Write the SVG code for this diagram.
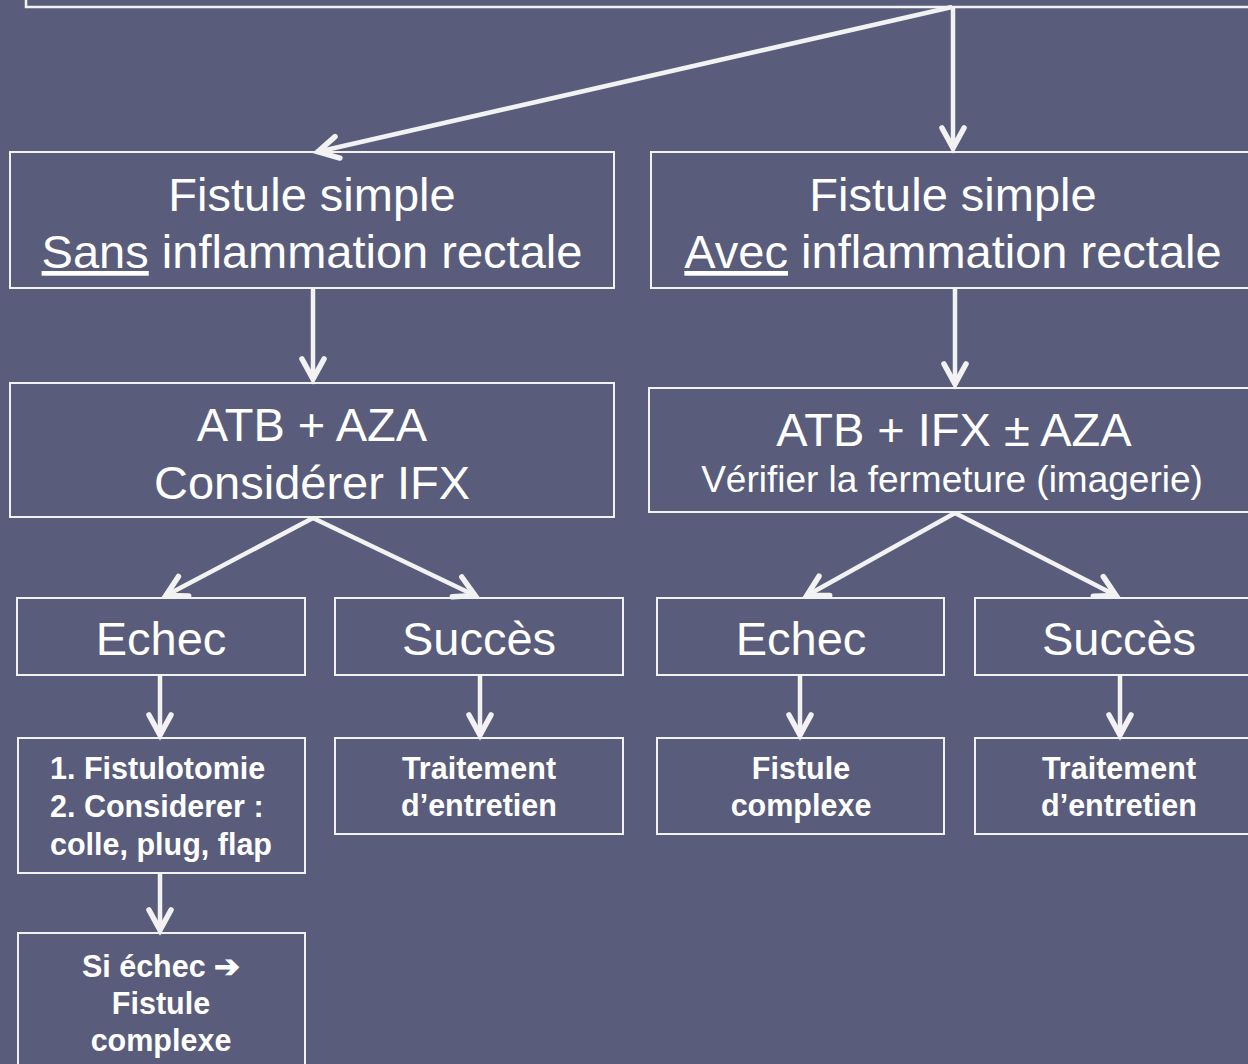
<svg xmlns="http://www.w3.org/2000/svg" width="1248" height="1064" viewBox="0 0 1248 1064">
<defs>
<style>
.bg{fill:#5a5c7b}
.box{fill:none;stroke:#f2f2f2;stroke-width:2}
.t{font-family:"Liberation Sans",Arial,sans-serif;fill:#ffffff;text-anchor:middle}
.big{font-size:47px}
.mid{font-size:37px}
.sm{font-size:30.5px;font-weight:bold}
.conn{stroke:#f2f2f2;stroke-width:4.5;fill:none;marker-end:url(#arr)}
</style>
<marker id="arr" markerUnits="userSpaceOnUse" markerWidth="60" markerHeight="60" refX="0" refY="0" orient="auto" overflow="visible">
<path d="M-21,-11 L-1,0 L-21,11" fill="none" stroke="#f2f2f2" stroke-width="5.5" stroke-linecap="round" stroke-linejoin="miter"/>
</marker>
</defs>
<rect class="bg" x="0" y="0" width="1248" height="1064"/>
<g id="top">
<rect class="box" x="26" y="-20" width="1240" height="27" style="stroke-width:2.5"/>
</g>
<g id="nA">
<rect class="box" x="10" y="152" width="604" height="136"/>
<text class="t big" x="312" y="211">Fistule simple</text>
<text class="t big" x="312" y="268"><tspan text-decoration="underline">Sans</tspan> inflammation rectale</text>
</g>
<g id="nB">
<rect class="box" x="651" y="152" width="604" height="136"/>
<text class="t big" x="953" y="211">Fistule simple</text>
<text class="t big" x="953" y="268"><tspan text-decoration="underline">Avec</tspan> inflammation rectale</text>
</g>
<g id="nC">
<rect class="box" x="10" y="383" width="604" height="134"/>
<text class="t big" x="312" y="441">ATB + AZA</text>
<text class="t big" x="312" y="499">Considérer IFX</text>
</g>
<g id="nD">
<rect class="box" x="649" y="388" width="606" height="124"/>
<text class="t big" x="954" y="446">ATB + IFX ± AZA</text>
<text class="t mid" x="952" y="492">Vérifier la fermeture (imagerie)</text>
</g>
<g id="nE1">
<rect class="box" x="17" y="598" width="288" height="77"/>
<text class="t big" x="161" y="655">Echec</text>
</g>
<g id="nS1">
<rect class="box" x="335" y="598" width="288" height="77"/>
<text class="t big" x="479" y="655">Succès</text>
</g>
<g id="nE2">
<rect class="box" x="657" y="598" width="287" height="77"/>
<text class="t big" x="801" y="655">Echec</text>
</g>
<g id="nS2">
<rect class="box" x="975" y="598" width="288" height="77"/>
<text class="t big" x="1119" y="655">Succès</text>
</g>
<g id="nF1">
<rect class="box" x="18" y="738" width="287" height="135"/>
<text class="t sm" x="50" y="779" style="text-anchor:start">1. Fistulotomie</text>
<text class="t sm" x="50" y="817" style="text-anchor:start">2. Considerer :</text>
<text class="t sm" x="50" y="855" style="text-anchor:start">colle, plug, flap</text>
</g>
<g id="nT1">
<rect class="box" x="335" y="738" width="288" height="96"/>
<text class="t sm" x="479" y="779">Traitement</text>
<text class="t sm" x="479" y="816">d’entretien</text>
</g>
<g id="nF2">
<rect class="box" x="657" y="738" width="287" height="96"/>
<text class="t sm" x="801" y="779">Fistule</text>
<text class="t sm" x="801" y="816">complexe</text>
</g>
<g id="nT2">
<rect class="box" x="975" y="738" width="288" height="96"/>
<text class="t sm" x="1119" y="779">Traitement</text>
<text class="t sm" x="1119" y="816">d’entretien</text>
</g>
<g id="nG1">
<rect class="box" x="18" y="933" width="287" height="150"/>
<text class="t sm" x="161" y="977">Si échec ➔</text>
<text class="t sm" x="161" y="1014">Fistule</text>
<text class="t sm" x="161" y="1051">complexe</text>
</g>
<g id="connectors">
<line class="conn" x1="952" y1="7" x2="317" y2="152"/>
<line class="conn" x1="953" y1="7" x2="953" y2="149"/>
<line class="conn" x1="313" y1="288" x2="313" y2="380"/>
<line class="conn" x1="955" y1="288" x2="955" y2="385"/>
<line class="conn" x1="313" y1="518" x2="165" y2="596"/>
<line class="conn" x1="313" y1="518" x2="476" y2="596"/>
<line class="conn" x1="955" y1="513" x2="806" y2="596"/>
<line class="conn" x1="955" y1="513" x2="1117" y2="596"/>
<line class="conn" x1="160" y1="675" x2="160" y2="736"/>
<line class="conn" x1="480" y1="675" x2="480" y2="736"/>
<line class="conn" x1="800" y1="675" x2="800" y2="736"/>
<line class="conn" x1="1120" y1="675" x2="1120" y2="736"/>
<line class="conn" x1="160" y1="873" x2="160" y2="931"/>
</g>
</svg>
